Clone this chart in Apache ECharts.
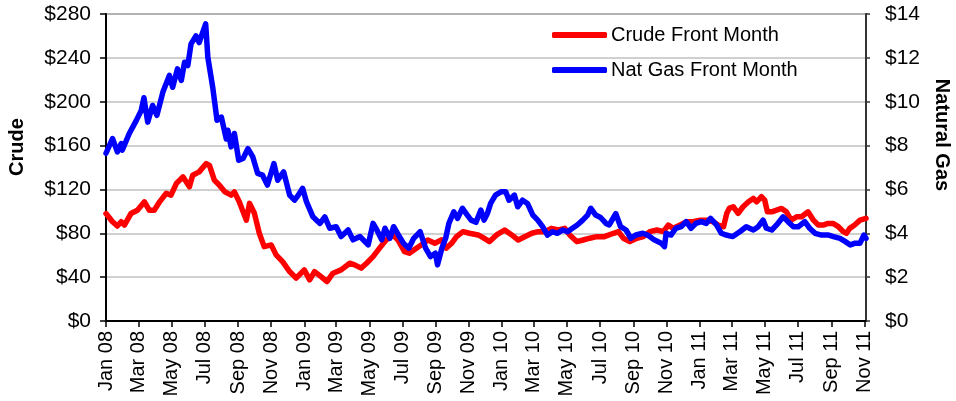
<!DOCTYPE html>
<html>
<head>
<meta charset="utf-8">
<script src="https://cdn.jsdelivr.net/npm/echarts@6/dist/echarts.min.js"></script>
<style>
  html, body { margin: 0; padding: 0; background: #fff; }
  #chart { width: 956px; height: 401px; }
</style>
</head>
<body>
<div id="chart"></div>
<script>
// 原油近月价格（左轴）
const crudeDates = [
  '2008-01-01','2008-01-13','2008-01-22','2008-01-29','2008-02-04','2008-02-16','2008-02-28','2008-03-12','2008-03-21','2008-03-30',
  '2008-04-09','2008-04-21','2008-04-30','2008-05-10','2008-05-22','2008-06-03','2008-06-09','2008-06-21','2008-07-04','2008-07-10',
  '2008-07-19','2008-07-28','2008-08-07','2008-08-19','2008-08-25','2008-09-03','2008-09-16','2008-09-22','2008-10-01','2008-10-10',
  '2008-10-19','2008-11-01','2008-11-10','2008-11-22','2008-12-05','2008-12-17',
  '2009-01-01','2009-01-11','2009-01-20','2009-02-01','2009-02-12','2009-02-23','2009-03-10','2009-03-26','2009-04-04','2009-04-16',
  '2009-04-26','2009-05-08','2009-05-20','2009-06-01','2009-06-14','2009-06-23','2009-07-05','2009-07-14','2009-07-27','2009-08-05',
  '2009-08-17','2009-08-30','2009-09-11','2009-09-20','2009-09-30','2009-10-09','2009-10-21','2009-11-02','2009-11-18','2009-11-24',
  '2009-12-09','2009-12-22',
  '2010-01-06','2010-01-19','2010-01-31','2010-02-12','2010-02-25','2010-03-09','2010-03-21','2010-04-02','2010-04-15','2010-04-27',
  '2010-05-06','2010-05-19','2010-05-31','2010-06-12','2010-06-25','2010-07-09','2010-07-26','2010-08-04','2010-08-13','2010-08-25',
  '2010-09-07','2010-09-19','2010-10-01','2010-10-14','2010-10-26','2010-11-04','2010-11-13','2010-11-26','2010-12-08','2010-12-20',
  '2011-01-02','2011-01-14','2011-01-26','2011-02-04','2011-02-14','2011-02-20','2011-02-25','2011-03-04','2011-03-13','2011-03-22',
  '2011-04-01','2011-04-10','2011-04-16','2011-04-25','2011-05-01','2011-05-06','2011-05-14','2011-05-23','2011-06-01','2011-06-10',
  '2011-06-19','2011-06-29','2011-07-08','2011-07-20','2011-07-30','2011-08-08','2011-08-17','2011-08-26','2011-09-04','2011-09-14',
  '2011-09-23','2011-09-29','2011-10-05','2011-10-14','2011-10-24','2011-11-04'
]
const crudeValues = [
  98, 90.5, 86.6, 90.5, 87.5, 98, 101, 108.7, 101, 101,
  108.7, 116.4, 114.8, 125.5, 131.5, 122.4, 133, 136, 143.6, 142,
  128.5, 124, 118, 114.8, 117.8, 108.7, 92, 107.3, 98.2, 80,
  67.8, 69.4, 60.3, 54.2, 45.1, 39.1,
  46.6, 37.5, 45.1, 40.5, 36, 43.6, 46.6, 52.7, 51.2, 48.2,
  52.7, 58.7, 66.4, 73.9, 78.5, 73.9, 63.3, 61.8, 66.4, 69.4,
  73.9, 70.9, 74, 66.4, 70.9, 76.9, 81.5, 80, 78.5, 76.9,
  72.4, 78.5,
  83, 78.5, 73.9, 76.9, 80, 81.5, 81.5, 84.5, 83, 84.5,
  78.5, 72.4, 73.9, 75.5, 76.9, 76.9, 80, 81.5, 75.5, 72.4,
  75.5, 76.9, 81.5, 83, 81.5, 87.5, 84.5, 87.5, 90.5, 90.5,
  92, 92, 90.5, 87.5, 86, 98.2, 103, 104.2, 98.2, 104.2,
  108.7, 111.8, 108.7, 113.3, 110.3, 99.6, 99.6, 101.2, 102.7, 99.6,
  92, 95.1, 95.1, 99.6, 92, 87.5, 87.5, 89, 89, 86,
  81.5, 80, 84.5, 87.5, 92, 93.6
]

// 天然气近月价格（右轴）
const gasDates = [
  '2008-01-01','2008-01-13','2008-01-22','2008-01-29','2008-01-31','2008-02-13','2008-02-26','2008-03-06','2008-03-11','2008-03-18',
  '2008-03-27','2008-04-04','2008-04-15','2008-04-27','2008-05-03','2008-05-12','2008-05-19','2008-05-25','2008-05-31','2008-06-06',
  '2008-06-15','2008-06-21','2008-07-03','2008-07-07','2008-07-16','2008-07-24','2008-08-01','2008-08-10','2008-08-13','2008-08-19',
  '2008-08-25','2008-09-02','2008-09-10','2008-09-19','2008-09-28','2008-10-07','2008-10-16','2008-10-25','2008-11-06','2008-11-13',
  '2008-11-24','2008-12-05','2008-12-14','2008-12-21','2008-12-29',
  '2009-01-05','2009-01-17','2009-01-30','2009-02-08','2009-02-17','2009-03-01','2009-03-10','2009-03-23','2009-04-01','2009-04-14',
  '2009-04-23','2009-04-29','2009-05-08','2009-05-15','2009-05-24','2009-05-30','2009-06-08','2009-06-15','2009-06-24','2009-07-03',
  '2009-07-13','2009-07-22','2009-08-03','2009-08-13','2009-08-22','2009-08-31','2009-09-04','2009-09-12','2009-09-19','2009-09-25',
  '2009-10-04','2009-10-11','2009-10-20','2009-10-29','2009-11-05','2009-11-14','2009-11-23','2009-11-29','2009-12-05','2009-12-11',
  '2009-12-20','2009-12-30',
  '2010-01-08','2010-01-14','2010-01-24','2010-01-30','2010-02-08','2010-02-17','2010-02-27','2010-03-08','2010-03-17','2010-03-26',
  '2010-04-04','2010-04-13','2010-04-23','2010-05-02','2010-05-11','2010-05-20','2010-05-30','2010-06-08','2010-06-14','2010-06-23',
  '2010-07-02','2010-07-12','2010-07-18','2010-07-30','2010-08-08','2010-08-18','2010-08-27','2010-09-05','2010-09-18','2010-09-27',
  '2010-10-09','2010-10-22','2010-10-28','2010-10-31','2010-11-09','2010-11-18','2010-11-28','2010-12-07','2010-12-16','2010-12-25',
  '2011-01-04','2011-01-13','2011-01-21','2011-02-01','2011-02-10','2011-02-19','2011-03-03','2011-03-16','2011-03-28','2011-04-10',
  '2011-04-19','2011-04-28','2011-05-04','2011-05-14','2011-05-23','2011-06-04','2011-06-13','2011-06-23','2011-07-02','2011-07-14',
  '2011-07-23','2011-08-02','2011-08-14','2011-08-27','2011-09-05','2011-09-17','2011-09-27','2011-10-06','2011-10-15','2011-10-24',
  '2011-10-31','2011-11-04'
]
const gasValues = [
  7.65, 8.32, 7.71, 8.09, 7.79, 8.55, 9.15, 9.6, 10.18, 9.07,
  9.83, 9.38, 10.44, 11.2, 10.66, 11.5, 10.97, 11.8, 11.65, 12.64,
  13.0, 12.7, 13.55, 12.03, 10.66, 9.15, 9.3, 8.3, 8.7, 7.94,
  8.55, 7.33, 7.41, 7.86, 7.48, 6.73, 6.65, 6.2, 7.18, 6.42,
  6.8, 5.74, 5.51, 5.74, 6.05,
  5.44, 4.75, 4.45, 4.75, 4.23, 4.3, 3.85, 4.15, 3.7, 3.85,
  3.62, 3.47, 4.45, 4.15, 3.7, 4.23, 3.77, 4.3, 3.92, 3.55,
  3.32, 3.77, 4.07, 3.32, 2.94, 3.09, 2.56, 3.32, 3.77, 4.45,
  4.98, 4.68, 5.14, 4.83, 4.6, 4.5, 5.06, 4.6, 4.9, 5.36,
  5.74, 5.89,
  5.89, 5.51, 5.74, 5.21, 5.51, 5.36, 4.83, 4.6, 4.3, 3.92,
  4.07, 4.0, 4.15, 4.07, 4.23, 4.38, 4.6, 4.83, 5.14, 4.83,
  4.72, 4.45, 4.38, 4.9, 4.3, 4.15, 3.77, 3.92, 4.0, 3.92,
  3.7, 3.55, 3.39, 4.0, 3.92, 4.23, 4.3, 4.53, 4.23, 4.45,
  4.53, 4.45, 4.68, 4.38, 4.0, 3.92, 3.85, 4.07, 4.3, 4.15,
  4.3, 4.6, 4.23, 4.15, 4.38, 4.75, 4.53, 4.3, 4.3, 4.53,
  4.23, 4.0, 3.92, 3.92, 3.85, 3.77, 3.62, 3.47, 3.55, 3.55,
  3.92, 3.77
]

// x 轴刻度（每两个月）
const tickDates = [
  '2008-01-01','2008-03-01','2008-05-01','2008-07-01','2008-09-01','2008-11-01',
  '2009-01-01','2009-03-01','2009-05-01','2009-07-01','2009-09-01','2009-11-01',
  '2010-01-01','2010-03-01','2010-05-01','2010-07-01','2010-09-01','2010-11-01',
  '2011-01-01','2011-03-01','2011-05-01','2011-07-01','2011-09-01','2011-11-01'
]
const monthNames = ['Jan','Feb','Mar','Apr','May','Jun','Jul','Aug','Sep','Oct','Nov','Dec']

const toTime = s => {
  const p = s.split('-')
  return new Date(+p[0], +p[1] - 1, +p[2]).getTime()
}

const FONT = "'Liberation Sans', Arial, sans-serif"
const chart = echarts.init(document.getElementById('chart'))

const option = {
  animation: false,
  backgroundColor: '#ffffff',
  grid: {
    left: 106, right: 90, top: 14, bottom: 80,
    show: true, borderColor: '#8c8c8c', borderWidth: 2, backgroundColor: '#ffffff'
  },
  legend: {
    orient: 'vertical',
    left: 552, top: 25,
    padding: 0,
    itemWidth: 55, itemHeight: 6, itemGap: 15,
    icon: 'roundRect',
    textStyle: { fontFamily: FONT, fontSize: 20, color: '#000', padding: [0, 0, 0, -1] },
    data: ['Crude Front Month', 'Nat Gas Front Month']
  },
  xAxis: {
    // 用数值轴承载时间戳，便于自定义每两个月的刻度
    type: 'value',
    min: toTime('2008-01-01'),
    max: toTime('2011-11-04'),
    axisLine: { lineStyle: { color: '#000', width: 2 } },
    axisTick: { show: true, length: 6, lineStyle: { color: '#000', width: 1.5 }, customValues: tickDates.map(toTime) },
    axisLabel: {
      customValues: tickDates.map(toTime),
      rotate: 90, margin: 10, hideOverlap: false,
      fontFamily: FONT, fontSize: 20, color: '#000',
      formatter: v => {
        const d = new Date(v)
        return monthNames[d.getMonth()] + ' ' + String(d.getFullYear()).slice(2)
      }
    },
    splitLine: { show: false }
  },
  yAxis: [{
    type: 'value', min: 0, max: 280, interval: 40,
    axisLine: { show: true, lineStyle: { color: '#000', width: 2 } },
    axisTick: { show: true, length: 6, lineStyle: { color: '#000', width: 1.5 } },
    axisLabel: { margin: 15, fontFamily: FONT, fontSize: 21, color: '#000', formatter: v => '$' + v },
    splitLine: { lineStyle: { color: '#c0c0c0', width: 1.5 } }
  }, {
    type: 'value', min: 0, max: 14, interval: 2,
    axisLine: { show: true, lineStyle: { color: '#333', width: 2 } },
    axisTick: { show: true, length: 4, lineStyle: { color: '#333', width: 1.5 } },
    axisLabel: { margin: 19, fontFamily: FONT, fontSize: 21, color: '#000', formatter: v => '$' + v },
    splitLine: { show: false }
  }],
  graphic: [{
    type: 'text', x: 17, y: 147, rotation: Math.PI / 2,
    style: { text: 'Crude', fontFamily: FONT, fontSize: 20, fontWeight: 'bold', fill: '#000', align: 'center', verticalAlign: 'middle' }
  }, {
    type: 'text', x: 942, y: 135, rotation: -Math.PI / 2,
    style: { text: 'Natural Gas', fontFamily: FONT, fontSize: 20, fontWeight: 'bold', fill: '#000', align: 'center', verticalAlign: 'middle' }
  }],
  series: [{
    name: 'Crude Front Month',
    type: 'line',
    yAxisIndex: 0,
    symbol: 'none',
    color: '#ff0000',
    lineStyle: { width: 5.5, color: '#ff0000', cap: 'round', join: 'round' },
    data: crudeDates.map((d, i) => [toTime(d), crudeValues[i]])
  }, {
    name: 'Nat Gas Front Month',
    type: 'line',
    yAxisIndex: 1,
    symbol: 'none',
    color: '#0000ff',
    lineStyle: { width: 5.5, color: '#0000ff', cap: 'round', join: 'round' },
    data: gasDates.map((d, i) => [toTime(d), gasValues[i]])
  }]
}

chart.setOption(option)
</script>
</body>
</html>
